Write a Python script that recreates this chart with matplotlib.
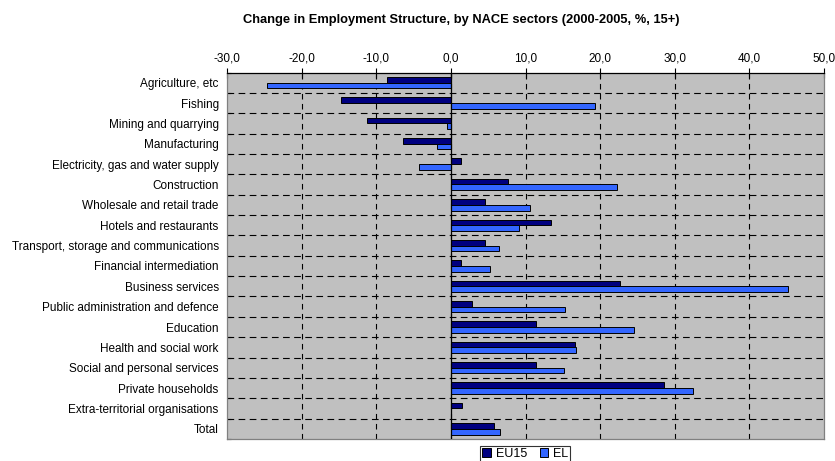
import numpy as np
import matplotlib
matplotlib.use("Agg")
import matplotlib.pyplot as plt
from matplotlib.ticker import FuncFormatter, FixedLocator

sectors = ["Agriculture, etc", "Fishing", "Mining and quarrying", "Manufacturing",
           "Electricity, gas and water supply", "Construction", "Wholesale and retail trade",
           "Hotels and restaurants", "Transport, storage and communications",
           "Financial intermediation", "Business services", "Public administration and defence",
           "Education", "Health and social work", "Social and personal services",
           "Private households", "Extra-territorial organisations", "Total"]
eu15 = [-8.5, -14.7, -11.3, -6.4, 1.3, 7.7, 4.6, 13.4, 4.6, 1.3, 22.6, 2.8, 11.4, 16.6, 11.4, 28.6, 1.5, 5.8]
el = [-24.7, 19.3, -0.5, -1.8, -4.3, 22.2, 10.6, 9.1, 6.4, 5.2, 45.2, 15.3, 24.6, 16.8, 15.2, 32.5, 0.0, 6.6]

plt.rcParams['font.family'] = ['Liberation Sans', 'DejaVu Sans']

fig = plt.figure(figsize=(8.35, 4.61), dpi=100)
ax = fig.add_axes([0.2719, 0.0477, 0.7149, 0.795])
ax.set_facecolor('#C0C0C0')

y = np.arange(len(sectors))
h = 0.28
ax.barh(y - h/2, eu15, height=h, color='#000080', edgecolor='black', linewidth=0.7, label='EU15', zorder=3)
ax.barh(y + h/2, el, height=h, color='#3366FF', edgecolor='black', linewidth=0.7, label='EL', zorder=3)

ax.set_xlim(-30, 50)
ax.set_ylim(len(sectors) - 0.5, -0.5)
ax.set_xticks(np.arange(-30, 51, 10))
ax.xaxis.set_major_formatter(FuncFormatter(lambda v, p: ("%.1f" % v).replace('.', ',')))
ax.xaxis.tick_top()
ax.tick_params(axis='x', direction='inout', length=7, width=0.8, labelsize=8.5, pad=2)

ax.set_yticks(y)
ax.set_yticklabels(sectors, fontsize=8.5)
ax.yaxis.set_minor_locator(FixedLocator(np.arange(-0.5, len(sectors), 1)))
ax.tick_params(axis='y', which='major', length=0, pad=6)
ax.tick_params(axis='y', which='minor', length=3, direction='in', width=0.8)

# dashed grid
for v in np.arange(-20, 50, 10):
    ax.axvline(v, color='black', linewidth=0.8, dashes=(5, 4), zorder=1)
for b in np.arange(0.5, len(sectors) - 0.5, 1):
    ax.axhline(b, color='black', linewidth=0.8, dashes=(6, 4), zorder=1)
ax.axvline(0, color='black', linewidth=0.9, zorder=4)

ax.spines['top'].set_color('black')
ax.spines['top'].set_linewidth(0.9)
for s in ['left', 'right', 'bottom']:
    ax.spines[s].set_color('#808080')
    ax.spines[s].set_linewidth(0.9)

fig.text(0.552, 0.957, "Change in Employment Structure, by NACE sectors (2000-2005, %, 15+)",
         ha='center', va='center', fontsize=9.3, fontweight='bold')

leg = fig.legend(loc='upper center', bbox_to_anchor=(0.629, 0.033), ncol=2, fontsize=9,
                 frameon=True, fancybox=False, edgecolor='black', handlelength=0.7,
                 handleheight=0.7, handletextpad=0.4, columnspacing=1.0, borderpad=0.15,
                 borderaxespad=0)
leg.get_frame().set_linewidth(0.8)

fig.savefig("out.png", dpi=100)
